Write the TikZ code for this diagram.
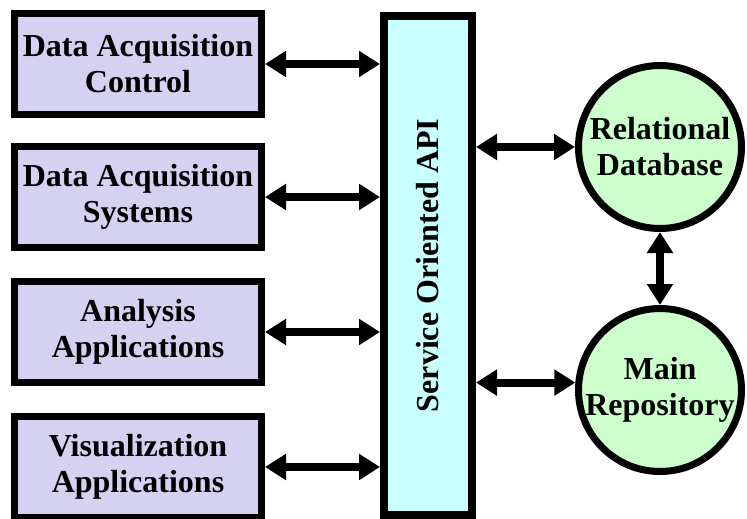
\documentclass[tikz,border=0pt]{standalone}
\usepackage{fontspec}
\setmainfont{Liberation Serif}
\usetikzlibrary{arrows.meta,calc}
\definecolor{BoxClr}{rgb}{0.831,0.820,0.945}
\definecolor{ApiClr}{rgb}{0.792,1,1}
\definecolor{StoreClr}{rgb}{0.800,1,0.800}

\begin{document}
\begin{tikzpicture}[x=1pt,y=-1pt,
  blk/.style={draw=black,line width=7pt,fill=BoxClr,minimum width=247pt,minimum height=101pt,
    inner sep=0pt,align=center,font=\fontsize{32}{36}\selectfont\bfseries},
  store/.style={circle,draw=black,line width=7pt,fill=StoreClr,minimum size=163pt,
    inner sep=0pt,align=center,font=\fontsize{32}{36}\selectfont\bfseries},
  biarrow/.style={line width=8pt,{Triangle[length=21pt 0,width=25pt 0]}-{Triangle[length=21pt 0,width=25pt 0]}}]
\useasboundingbox (0,0) rectangle (747,519);
\clip (0,0) rectangle (747,519);

\node[blk] (DAC) at (138,64) {Data Acquisition\\Control};
\node[blk] (DAS) at (138,197) {Data Acquisition\\Systems};
\node[blk] (AA) at (138,332) {Analysis\\Applications};
\node[blk] (VA) at (138,467) {Visualization\\Applications};

\node[draw=black,line width=8pt,fill=ApiClr,minimum width=88pt,minimum height=499pt,inner sep=0pt] (API) at (428,265.5)
  {\rotatebox{90}{\fontsize{32}{36}\selectfont\bfseries Service Oriented API}};

\node[store] (RD) at (660,147) {Relational\\Database};
\node[store] (MR) at (660,390) {Main\\Repository};

% client side
\foreach \n in {DAC,DAS,AA,VA}
  \draw[biarrow] (\n.east) -- (API.west |- \n.east);

% storage side
\draw[biarrow] (API.east |- RD.180) -- (RD.180);
\draw[biarrow] (API.east |- MR.175) -- (MR.175);
\draw[biarrow] (RD.south) -- (MR.north);

\end{tikzpicture}
\end{document}
